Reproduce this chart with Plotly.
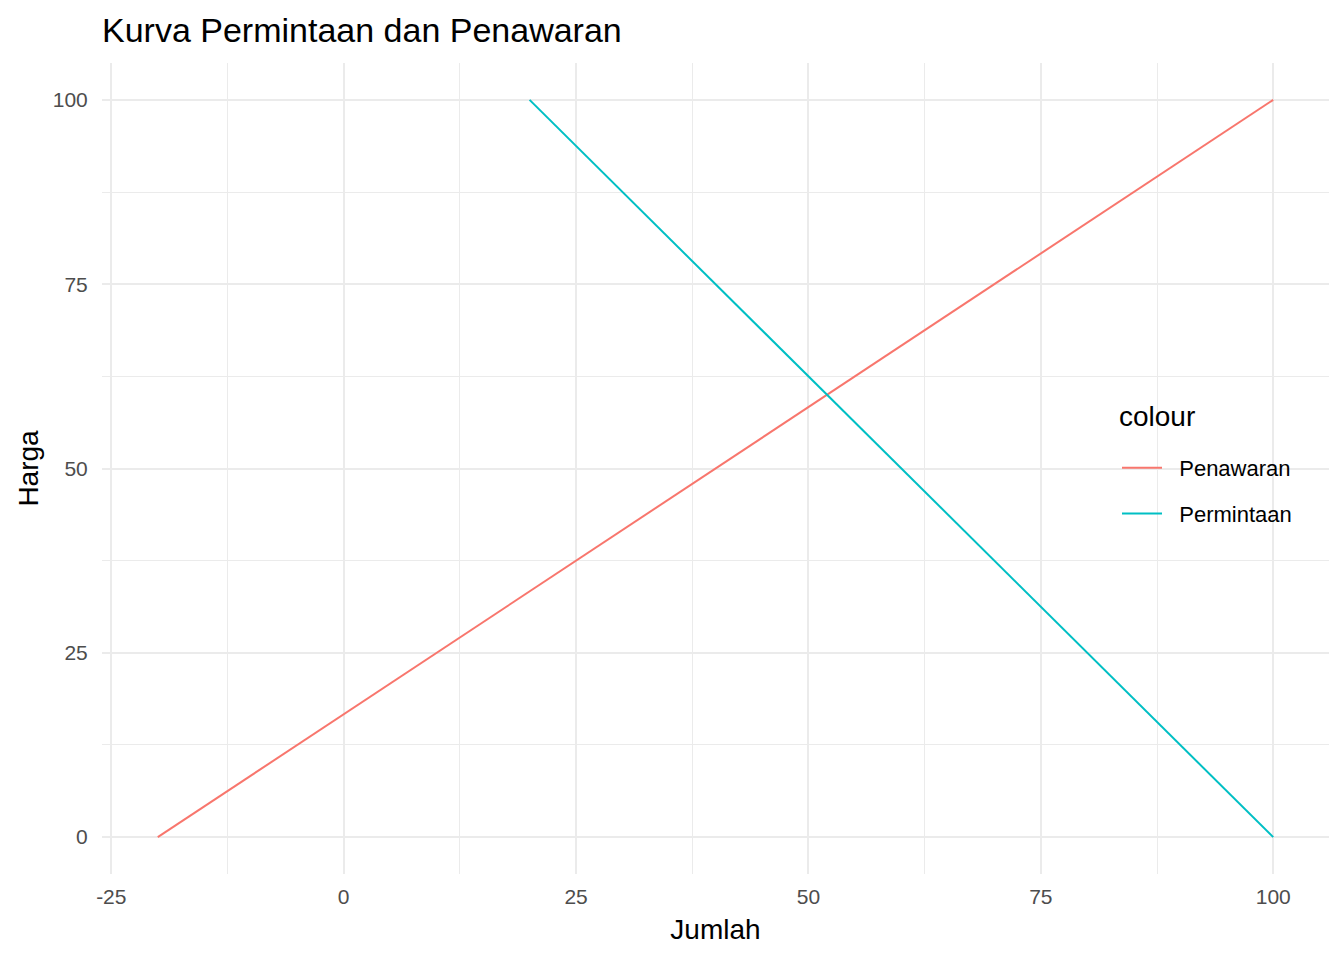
import plotly.graph_objects as go

# Data
harga = [0, 25, 50, 75, 100]
jumlah_penawaran = [-20, 10, 40, 70, 100]
jumlah_permintaan = [100, 80, 60, 40, 20]

series_names = ["Penawaran", "Permintaan"]
series_colors = ["#F8766D", "#00BFC4"]
legend_title = "colour"

x_ticks = [-25, 0, 25, 50, 75, 100]
y_ticks = [0, 25, 50, 75, 100]
minor_x = [-12.5, 12.5, 37.5, 62.5, 87.5]
minor_y = [12.5, 37.5, 62.5, 87.5]

FONT = "Liberation Sans, Arial, sans-serif"
OFF = 8  # page body margin in the browser
PL, PR, PT, PB = 102, 1329, 63, 874  # target plot area on the page
PW, PH = PR - PL, PB - PT
NB = "\u00a0\u00a0"

fig = go.Figure()
for name, xs, col, grp in [
    (series_names[0], jumlah_penawaran, series_colors[0], "a"),
    (series_names[1], jumlah_permintaan, series_colors[1], "b"),
]:
    fig.add_trace(go.Scatter(
        x=xs, y=harga, mode="lines", name=NB + name,
        line=dict(color=col, width=2),
        legendgroup=grp,
    ))

fig.add_annotation(
    text=legend_title, showarrow=False,
    xref="paper", yref="paper",
    x=(1117 - PL) / PW, xanchor="left",
    y=(PB - 416) / PH, yanchor="middle",
    font=dict(size=28, color="black", family=FONT),
)

fig.update_layout(
    width=1344, height=960,
    paper_bgcolor="white", plot_bgcolor="white",
    margin=dict(l=PL - OFF, r=1344 - PR + OFF, t=PT - OFF, b=960 - PB + OFF,
                autoexpand=False),
    font=dict(family=FONT, color="black"),
    title=dict(
        text="Kurva Permintaan dan Penawaran",
        x=(102 - OFF) / 1344, xanchor="left", xref="container",
        y=1 - (30 - OFF) / 960, yanchor="middle", yref="container",
        font=dict(size=34, color="black", family=FONT),
    ),
    xaxis=dict(
        range=[-26, 106], tickvals=x_ticks, ticktext=[str(v) for v in x_ticks],
        showgrid=True, gridcolor="#EBEBEB", gridwidth=2,
        minor=dict(tickvals=minor_x, showgrid=True, gridcolor="#EBEBEB", gridwidth=1),
        zeroline=False, showline=False, automargin=False,
        ticks="outside", ticklen=4, tickcolor="rgba(0,0,0,0)",
        tickfont=dict(size=21, color="#4D4D4D"),
        title=dict(text="Jumlah", font=dict(size=28, color="black"), standoff=12),
    ),
    yaxis=dict(
        range=[-5, 105], tickvals=y_ticks, ticktext=[str(v) for v in y_ticks],
        showgrid=True, gridcolor="#EBEBEB", gridwidth=2,
        minor=dict(tickvals=minor_y, showgrid=True, gridcolor="#EBEBEB", gridwidth=1),
        zeroline=False, showline=False, automargin=False,
        ticks="outside", ticklen=9, tickcolor="rgba(0,0,0,0)",
        tickfont=dict(size=21, color="#4D4D4D"),
        title=dict(text="Harga", font=dict(size=28, color="black"), standoff=5),
    ),
    legend=dict(
        x=(1117 - PL) / PW, xanchor="left",
        y=(PB - 447) / PH, yanchor="top",
        bgcolor="rgba(0,0,0,0)",
        font=dict(size=22, color="black"),
        tracegroupgap=14,
        itemwidth=40,
    ),
)

fig.write_html("out.html")
